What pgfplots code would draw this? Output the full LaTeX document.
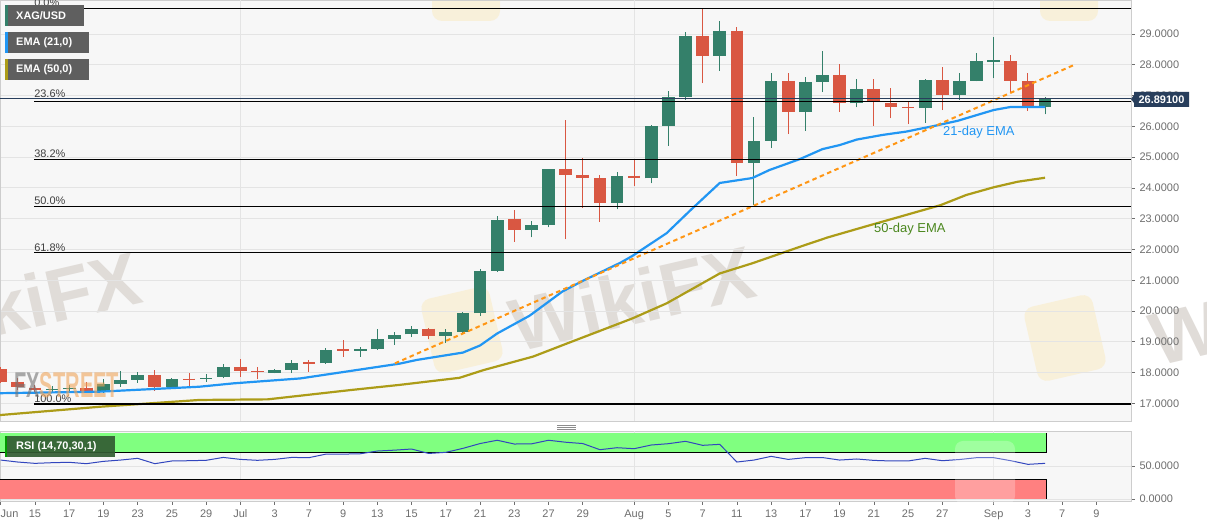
\documentclass[border=0pt]{standalone}
\usepackage{pgfplots}
\pgfplotsset{compat=1.18}
\usepackage{pgfplotstable}
\usepackage{graphicx}
\usepackage{fontspec}
\setmainfont{Liberation Sans}
\definecolor{cgreen}{RGB}{52,128,106}
\definecolor{cred}{RGB}{217,87,66}
\definecolor{emablue}{RGB}{33,150,243}
\definecolor{emaolive}{RGB}{172,156,24}
\definecolor{trendor}{RGB}{255,150,20}
\definecolor{pricenavy}{RGB}{40,62,92}
\definecolor{rsiblue}{RGB}{50,70,190}
\definecolor{plotbg}{RGB}{247,247,247}
\definecolor{gridc}{RGB}{228,228,228}
\definecolor{axisc}{RGB}{205,205,205}
\definecolor{labc}{RGB}{110,110,110}
\definecolor{boxgray}{RGB}{95,95,95}
\definecolor{rsigreen}{RGB}{128,255,128}
\definecolor{rsired}{RGB}{255,128,128}
\definecolor{rsibox}{RGB}{50,92,50}
\definecolor{emagreentext}{RGB}{75,135,30}
\definecolor{wm}{RGB}{224,220,216}
\definecolor{wmlogo}{RGB}{250,236,200}
\definecolor{fxgray}{RGB}{115,115,115}
\definecolor{fxorange}{RGB}{240,165,90}
\newcommand\ts{\fontsize{11}{13}\selectfont}

% candles: x = trading-day index (0 = Jun 15), open, high, low, close
\pgfplotstableread{
x o h l c
1 17.43 17.56 17.33 17.47
2 17.46 17.60 17.33 17.50
4 17.38 17.80 17.34 17.63
5 17.63 18.06 17.54 17.76
6 17.76 18.03 17.67 17.92
8 17.54 17.83 17.49 17.78
10 17.80 17.95 17.70 17.84
11 17.87 18.28 17.81 18.19
14 17.99 18.10 17.97 18.08
15 18.08 18.41 17.98 18.30
17 18.30 18.79 18.28 18.73
19 18.71 18.84 18.52 18.78
20 18.76 19.41 18.74 19.09
21 19.10 19.31 18.90 19.22
22 19.24 19.51 19.15 19.43
24 19.20 19.41 18.97 19.31
25 19.33 19.96 19.28 19.93
26 19.93 21.35 19.85 21.31
27 21.31 23.09 21.28 22.96
29 22.63 22.93 22.39 22.78
30 22.79 24.63 22.72 24.60
34 23.52 24.53 23.30 24.40
36 24.31 26.04 24.15 26.01
37 26.01 27.16 25.37 26.94
38 26.94 29.08 26.86 28.93
40 28.30 29.42 27.81 29.11
42 24.82 26.29 23.44 25.53
43 25.53 27.74 25.29 27.48
45 26.46 27.59 25.86 27.43
46 27.45 28.46 27.11 27.67
48 26.75 27.53 26.62 27.22
52 26.59 27.53 26.12 27.50
54 27.03 27.72 26.86 27.47
55 27.48 28.37 27.46 28.11
56 28.10 28.89 27.56 28.14
59 26.62 26.96 26.39 26.89
}\greentab

\pgfplotstableread{
x o h l c
-2 18.11 18.17 17.66 17.70
-1 17.70 17.81 17.43 17.53
0 17.51 17.60 17.30 17.42
3 17.51 17.70 17.33 17.41
7 17.92 18.08 17.41 17.54
9 17.80 17.98 17.54 17.76
12 18.19 18.43 17.87 18.05
13 18.05 18.17 17.78 18.01
16 18.33 18.41 18.03 18.29
18 18.75 19.05 18.52 18.71
23 19.43 19.45 19.08 19.20
28 22.98 23.28 22.25 22.63
31 24.60 26.21 22.33 24.42
32 24.42 24.98 23.34 24.31
33 24.31 24.42 22.90 23.52
35 24.40 24.91 24.06 24.31
39 28.93 29.83 27.40 28.30
41 29.11 29.24 24.40 24.82
44 27.48 27.74 25.75 26.46
47 27.67 28.03 26.48 26.75
49 27.22 27.53 26.02 26.82
50 26.77 27.24 26.26 26.62
51 26.63 26.80 26.07 26.59
53 27.50 27.92 26.53 27.03
57 28.12 28.32 27.07 27.47
58 27.47 27.72 26.51 26.64
}\redtab

\pgfplotstableread{
x r
-2 59
-1 56
0 54
1 55
2 55.6
3 53.5
4 57
5 59
6 61.6
7 53.5
8 57.6
9 58
10 58.6
11 63
12 60
13 58.6
14 60
15 63
16 62.6
17 68
18 68
19 68.5
20 72.7
21 74
22 75.7
23 69
24 70.7
25 76.7
26 84
27 89
28 83.3
29 83.5
30 89
31 86
32 84
33 74.7
34 77.7
35 76.2
36 81.8
37 83.8
38 87.4
39 81.3
40 82.8
41 56
42 59
43 64.6
44 60
45 62.6
46 62.8
47 59
48 60.6
49 58.5
50 57.6
51 57.6
52 61.6
53 58
54 59.8
55 62.6
56 62.6
57 58
58 52.5
59 54
}\rsitab

\begin{document}
\begin{tikzpicture}[x=1bp,y=1bp]
% backgrounds
\fill[white] (0,0) rectangle (1207,526);
\fill[plotbg] (0,105) rectangle (1131,526);
\fill[plotbg] (0,25) rectangle (1131,95);
% watermarks
\fill[wmlogo, opacity=0.6, rounded corners=10bp, rotate around={13:(462,196)}] (427,158) rectangle (497,234);
\fill[wmlogo, opacity=0.6, rounded corners=10bp, rotate around={13:(1065,188)}] (1030,150) rectangle (1100,226);
\fill[wmlogo, opacity=0.6, rounded corners=10bp] (432,505) rectangle (500,540);
\fill[wmlogo, opacity=0.6, rounded corners=10bp] (1040,505) rectangle (1098,540);
\node[rotate=13, text=wm, font=\fontsize{75}{75}\selectfont\bfseries] at (632,228) {WikiFX};
\node[rotate=13, text=wm, font=\fontsize{75}{75}\selectfont\bfseries] at (18,222) {WikiFX};
\node[rotate=13, text=wm, font=\fontsize{75}{75}\selectfont\bfseries] at (1272,214) {WikiFX};

% ===== main price panel =====
\begin{axis}[
  at={(0bp,105bp)}, anchor=south west,
  width=1131bp, height=421bp, scale only axis,
  xmin=-2.04, xmax=64.02, ymin=16.427, ymax=30.105,
  axis line style={draw=axisc},
  xtick=\empty,
  extra x ticks={12,35,56}, extra x tick labels={},
  extra x tick style={grid=major, major tick length=0pt},
  ytick={17,18,...,29},
  ymajorgrids, grid style={draw=gridc, line width=0.8bp},
  ytick pos=right, yticklabel pos=right,
  tick align=outside, major tick length=4bp,
  tick style={draw=labc, line width=0.6bp},
  yticklabel style={font=\ts, text=labc, xshift=1bp,
    /pgf/number format/.cd, fixed, fixed zerofill, precision=4, assume math mode=true},
  clip mode=individual,
]
% wicks
\addplot[draw=cgreen, line width=1bp, quiver={u=0, v=\thisrow{h}-\thisrow{l}}] table[x=x, y=l] {\greentab};
\addplot[draw=cred, line width=1bp, quiver={u=0, v=\thisrow{h}-\thisrow{l}}] table[x=x, y=l] {\redtab};
% bodies
\addplot[draw=cgreen, line width=12.7bp, quiver={u=0, v=\thisrow{c}-\thisrow{o}}] table[x=x, y=o] {\greentab};
\addplot[draw=cred, line width=12.7bp, quiver={u=0, v=\thisrow{c}-\thisrow{o}}] table[x=x, y=o] {\redtab};
% EMA 50
\addplot[emaolive, line width=2.2bp] coordinates {
(-2.04,16.62) (3.8,16.89) (9.6,17.11) (13.6,17.13) (18.4,17.43) (21.3,17.60) (24.8,17.83) (26.2,18.08)
(29.1,18.52) (31.1,18.95) (34.9,19.76) (36.9,20.25) (40.0,21.22) (41.9,21.55) (44.7,22.09)
(46.3,22.39) (48.6,22.76) (50.5,23.06) (52.9,23.44) (54.4,23.77) (56.0,24.02) (57.4,24.20) (59.0,24.33)};
% EMA 21
\addplot[emablue, line width=2.2bp] coordinates {
(-2.04,17.33) (3.8,17.38) (9.6,17.54) (11.6,17.65) (15.5,17.81) (18.4,18.05) (21.3,18.29) (22.3,18.41)
(25.0,18.65) (26.0,18.88) (27.0,19.27) (28.9,19.85) (30.8,20.63) (32.0,20.98) (34.2,21.57) (34.9,21.79)
(36.9,22.53) (38.3,23.28) (40.0,24.16) (41.9,24.32) (42.9,24.58) (44.7,24.94) (46.0,25.26) (47.0,25.39)
(48.0,25.57) (49.5,25.72) (50.9,25.83) (52.5,26.01) (53.9,26.18) (56.0,26.53) (57.0,26.63) (59.0,26.63)};
% trend line
\addplot[trendor, line width=2bp, dash pattern=on 4.5bp off 3.5bp] coordinates {(21.03,18.30) (60.8,28.02)};
% Fibonacci levels
\addplot[black, line width=1.1bp] coordinates {(-0.05,29.84) (64.02,29.84)};
\addplot[black, line width=1.1bp] coordinates {(-0.05,26.81) (64.02,26.81)};
\addplot[black, line width=1.1bp] coordinates {(-0.05,24.93) (64.02,24.93)};
\addplot[black, line width=1.1bp] coordinates {(-0.05,23.41) (64.02,23.41)};
\addplot[black, line width=1.1bp] coordinates {(-0.05,21.89) (64.02,21.89)};
\addplot[black, line width=1.1bp] coordinates {(-0.05,16.98) (64.02,16.98)};
% current price line
\addplot[pricenavy, line width=0.9bp] coordinates {(-2.04,26.891) (64.02,26.891)};
% fib labels
\node[anchor=south west, inner sep=0pt, yshift=1.5bp, text=black!75, font=\ts] at (axis cs:-0.05,29.84) {0.0\%};
\node[anchor=south west, inner sep=0pt, yshift=1.5bp, text=black!75, font=\ts] at (axis cs:-0.05,26.891) {23.6\%};
\node[anchor=south west, inner sep=0pt, yshift=1.5bp, text=black!75, font=\ts] at (axis cs:-0.05,24.93) {38.2\%};
\node[anchor=south west, inner sep=0pt, yshift=1.5bp, text=black!75, font=\ts] at (axis cs:-0.05,23.41) {50.0\%};
\node[anchor=south west, inner sep=0pt, yshift=1.5bp, text=black!75, font=\ts] at (axis cs:-0.05,21.89) {61.8\%};
\node[anchor=south west, inner sep=0pt, yshift=1.5bp, text=black!75, font=\ts] at (axis cs:-0.05,16.98) {100.0\%};
\end{axis}

% ===== RSI panel =====
\begin{axis}[
  at={(0bp,25bp)}, anchor=south west,
  width=1131bp, height=70bp, scale only axis,
  xmin=-2.04, xmax=64.02, ymin=-3.03, ymax=103.03,
  axis line style={draw=axisc},
  xtick={-2,0,2,4,6,8,10,12,14,16,18,20,22,24,26,28,30,32,35,37,39,41,43,45,47,49,51,53,56,58,60,62},
  xticklabels={\makebox[0pt][l]{Jun},15,17,19,23,25,29,Jul,3,7,9,13,15,17,21,23,27,29,Aug,5,7,11,13,17,19,21,25,27,Sep,3,7,9},
  extra x ticks={12,35,56}, extra x tick labels={},
  extra x tick style={grid=major, major tick length=0pt},
  xtick pos=bottom,
  ytick={0,50}, ymajorgrids, grid style={draw=gridc, line width=0.8bp},
  ytick pos=right, yticklabel pos=right,
  tick align=outside, major tick length=4bp,
  tick style={draw=labc, line width=0.6bp},
  xticklabel style={font=\ts, text=labc, yshift=-1bp},
  yticklabel style={font=\ts, text=labc, xshift=1bp,
    /pgf/number format/.cd, fixed, fixed zerofill, precision=4, assume math mode=true},
  clip mode=individual,
]
\addplot[fill=rsigreen, draw=none] coordinates {(-2.04,70) (59.1,70) (59.1,100) (-2.04,100)} -- cycle;
\addplot[fill=rsired, draw=none] coordinates {(-2.04,0) (59.1,0) (59.1,30) (-2.04,30)} -- cycle;
\addplot[black, line width=1bp] coordinates {(-2.04,70) (59.1,70) (59.1,100)};
\addplot[black, line width=1bp] coordinates {(-2.04,30) (59.1,30) (59.1,0)};
\addplot[rsiblue, line width=1bp] table[x=x, y=r] {\rsitab};
\end{axis}

% watermark over RSI band
\fill[white, opacity=0.25, rounded corners=8bp] (955,22) rectangle (1015,85);

% FXSTREET logo
\node[anchor=west, inner sep=0pt, opacity=0.6, font=\fontsize{36}{36}\selectfont\bfseries] at (14,141)
  {\scalebox{0.56}[1]{\textcolor{fxgray}{FX}\textcolor{fxorange}{STREET}}};

% legend boxes
\fill[boxgray] (5,500) rectangle (84,521);
\fill[cgreen] (5,500) rectangle (7.5,521);
\node[anchor=west, inner sep=0pt, text=white, font=\ts\bfseries] at (16,510.5) {XAG/USD};
\fill[boxgray] (5,473) rectangle (89,494);
\fill[emablue] (5,473) rectangle (7.5,494);
\node[anchor=west, inner sep=0pt, text=white, font=\ts\bfseries] at (16,483.5) {EMA (21,0)};
\fill[boxgray] (5,446) rectangle (89,467);
\fill[emaolive] (5,446) rectangle (7.5,467);
\node[anchor=west, inner sep=0pt, text=white, font=\ts\bfseries] at (16,456.5) {EMA (50,0)};

% RSI label box
\fill[rsibox, opacity=0.92] (4.6,69) rectangle (115,90);
\fill[green!60!black] (4.6,69) rectangle (7,90);
\node[anchor=west, inner sep=0pt, text=white, font=\ts\bfseries] at (16,79.5) {RSI (14,70,30,1)};

% price tag
\fill[pricenavy] (1131,427) -- (1134,431) -- (1134,434) -- (1189,434) -- (1189,419) -- (1134,419) -- (1134,423) -- cycle;
\node[text=white, inner sep=0pt, font=\ts\bfseries] at (1161.5,426.5) {26.89100};

% annotations
\node[anchor=base west, inner sep=0pt, text=emablue, font=\fontsize{13}{15}\selectfont] at (943,390) {21-day EMA};
\node[anchor=base west, inner sep=0pt, text=emagreentext, font=\fontsize{13}{15}\selectfont] at (874,293) {50-day EMA};

% panel separator handle
\draw[black!45, line width=0.7bp] (557,100.5) -- (576,100.5) (557,98.5) -- (576,98.5) (557,96.5) -- (576,96.5);

\pgfresetboundingbox
\useasboundingbox (0,0) rectangle (1207,526);
\end{tikzpicture}
\end{document}
